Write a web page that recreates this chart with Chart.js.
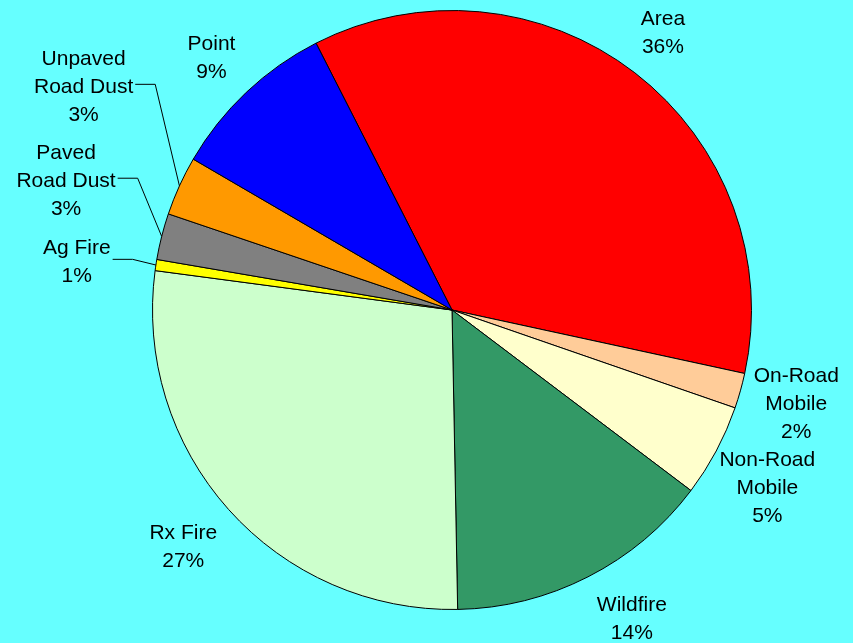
<!DOCTYPE html>
<html>
<head>
<meta charset="utf-8">
<script src="https://cdn.jsdelivr.net/npm/chart.js@4.4.1/dist/chart.umd.min.js"></script>
<style>
  body { margin: 0; background: #66FFFF; }
  canvas { display: block; }
</style>
</head>
<body>
<canvas id="myChart" width="853" height="643"></canvas>
<script>
  var categories = ["Area", "On-Road Mobile", "Non-Road Mobile", "Wildfire", "Rx Fire", "Ag Fire", "Paved Road Dust", "Unpaved Road Dust", "Point"];
  var shares = [35.9, 1.9, 5.0, 14.4, 27.4, 0.6, 2.5, 3.2, 9.1];
  var sliceColors = ["#FF0000", "#FFCC99", "#FFFFCC", "#339966", "#CCFFCC", "#FFFF00", "#808080", "#FF9900", "#0000FF"];
  // how the label text wraps (same order as categories)
  var labelLines = [["Area"], ["On-Road", "Mobile"], ["Non-Road", "Mobile"], ["Wildfire"], ["Rx Fire"], ["Ag Fire"], ["Paved", "Road Dust"], ["Unpaved", "Road Dust"], ["Point"]];

  // label placement: extra distance past the rim (px), angle nudge (deg), leader line on/off
  var labelGap = [50, 57, 62, 57, 58, 79, 108, 132, 50];
  var labelNudge = [-0.5, -0.6, 1.2, -3.3, 0.5, -1.1, 4.5, 6.9, -0.1];
  var hasLeader = [false, false, false, false, false, true, true, true, false];

  var sliceLabels = {
    id: 'sliceLabels',
    afterDraw: function(chart) {
      var ctx = chart.ctx;
      var arcs = chart.getDatasetMeta(0).data;
      var total = 0;
      for (var k = 0; k < shares.length; k++) total += shares[k];

      ctx.save();
      ctx.font = '21px "Liberation Sans", Arial, sans-serif';
      ctx.fillStyle = '#000';
      ctx.strokeStyle = '#000';
      ctx.lineWidth = 1;
      ctx.textAlign = 'center';
      ctx.textBaseline = 'alphabetic';

      for (var i = 0; i < arcs.length; i++) {
        var arc = arcs[i];
        var mid = (arc.startAngle + arc.endAngle) / 2;
        var ang = mid + labelNudge[i] * Math.PI / 180;
        var dist = arc.outerRadius + labelGap[i];
        var cx = arc.x + Math.cos(ang) * dist;
        var cy = arc.y + Math.sin(ang) * dist;

        var lines = labelLines[i].concat([Math.round(shares[i] / total * 100) + '%']);
        var lh = 28;
        var maxW = 0;
        for (var j = 0; j < lines.length; j++) {
          var ly = cy + (j - (lines.length - 1) / 2) * lh + 7.5;
          ctx.fillText(lines[j], cx, ly);
          if (j < lines.length - 1) maxW = Math.max(maxW, ctx.measureText(lines[j]).width);
        }

        if (hasLeader[i]) {
          var x0 = cx + maxW / 2 + 2;
          var y0 = cy - 1;
          var ex = arc.x + Math.cos(mid) * arc.outerRadius;
          var ey = arc.y + Math.sin(mid) * arc.outerRadius;
          ctx.beginPath();
          ctx.moveTo(x0, y0);
          ctx.lineTo(x0 + 20, y0);
          ctx.lineTo(ex, ey);
          ctx.stroke();
        }
      }
      ctx.restore();
    }
  };

  var context = document.getElementById("myChart").getContext('2d');
  var myPie = new Chart(context, {
    type: 'pie',
    data: {
      labels: categories,
      datasets: [{
        data: shares,
        backgroundColor: sliceColors,
        borderColor: '#000',
        borderWidth: 1
      }]
    },
    options: {
      responsive: false,
      devicePixelRatio: 1,
      animation: false,
      rotation: -27,
      layout: { padding: { left: 152, right: 101, top: 10, bottom: 33 } },
      plugins: {
        legend: { display: false },
        tooltip: { enabled: false }
      }
    },
    plugins: [sliceLabels]
  });
</script>
</body>
</html>
